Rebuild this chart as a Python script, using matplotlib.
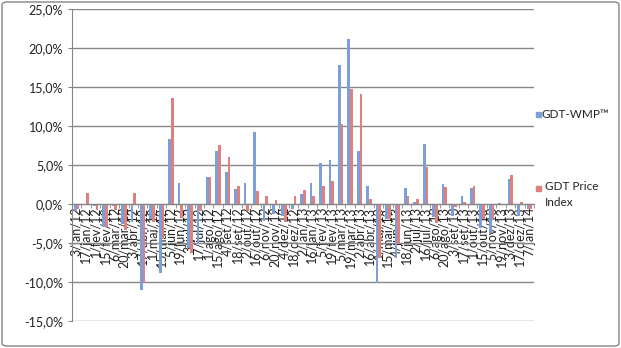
import numpy as np
import matplotlib
matplotlib.use("Agg")
import matplotlib.pyplot as plt
from matplotlib.patches import FancyBboxPatch, Rectangle
from matplotlib.ticker import FuncFormatter, MultipleLocator

plt.rcParams['font.family'] = ['Lato', 'DejaVu Sans']

dates = ['3/jan/12', '17/jan/12', '1/fev/12', '15/fev/12', '6/mar/12', '20/mar/12',
         '3/abr/12', '17/abr/12', '1/mai/12', '15/mai/12', '5/jun/12', '19/jun/12',
         '3/jul/12', '17/jul/12', '1/ago/12', '15/ago/12', '4/set/12', '18/set/12',
         '2/out/12', '16/out/12', '6/nov/12', '20/nov/12', '4/dez/12', '18/dez/12',
         '2/jan/13', '16/jan/13', '5/fev/13', '19/fev/13', '5/mar/13', '19/mar/13',
         '2/abr/13', '16/abr/13', '1/mai/13', '15/mai/13', '4/jun/13', '18/jun/13',
         '2/jul/13', '16/jul/13', '6/ago/13', '20/ago/13', '3/set/13', '17/set/13',
         '1/out/13', '15/out/13', '5/nov/13', '19/nov/13', '3/dez/13', '17/dez/13',
         '7/jan/14']

# % change per auction
wmp = [-0.9, -0.1, -0.3, -2.9, -0.3, -2.6, -2.3, -11.1, -2.0, -8.9, 8.4, 2.7,
       -5.6, -5.2, 3.4, 6.8, 4.1, 1.9, 2.7, 9.2, -2.2, -1.3, -1.5, -0.6,
       1.3, 2.7, 5.3, 5.6, 17.9, 21.2, 6.8, 2.3, -10.1, -1.9, -7.0, 2.1,
       0.2, 7.7, -1.7, 2.6, -1.5, 1.0, 2.1, -3.1, -3.7, 0.1, 3.2, -1.5,
       -0.6]
gdt = [-0.6, 1.4, -0.8, -3.0, -0.8, -3.3, 1.4, -10.1, -2.3, -4.5, 13.6, -1.8,
       -6.3, -0.9, 3.4, 7.6, 6.0, 2.3, -0.9, 1.7, 1.0, 0.5, -2.3, 1.0,
       1.8, 1.0, 2.3, 3.0, 10.3, 14.8, 14.1, 0.6, -7.0, -1.9, -5.1, 1.0,
       0.6, 4.8, -2.5, 2.2, -0.4, 0.2, 2.3, -1.9, -2.0, 0.0, 3.7, 0.2,
       -0.6]

blue = '#7C9FD8'
red = '#DE807E'
grid_col = '#868686'

fig = plt.figure(figsize=(6.21, 3.48), dpi=100)
ax = fig.add_axes([72 / 621, 1 - 320.7 / 348, (534 - 72) / 621, (320.7 - 9.3) / 348])

x = np.arange(len(dates))
w = 1 / 3.5
ax.bar(x - w / 2, wmp, w, color=blue, zorder=3)
ax.bar(x + w / 2, gdt, w, color=red, zorder=3)

ax.set_xlim(-0.5, len(dates) - 0.5)
ax.set_ylim(-15, 25)
ax.yaxis.set_major_locator(MultipleLocator(5))
ax.yaxis.set_major_formatter(FuncFormatter(lambda v, p: f"{v:.1f}%".replace('.', ',')))
ax.yaxis.grid(True, color=grid_col, linewidth=1)
ax.set_axisbelow(True)

ax.spines['top'].set_visible(False)
ax.spines['right'].set_visible(False)
ax.spines['left'].set_color(grid_col)
ax.spines['bottom'].set_color(grid_col)
ax.spines['bottom'].set_position(('data', 0))
ax.spines['bottom'].set_zorder(4)

ax.set_xticks(x)
ax.set_xticklabels(dates, rotation=90, fontsize=9, va='top', ha='center', color='#222222')
ax.set_xticks(np.arange(len(dates) + 1) - 0.5, minor=True)
ax.tick_params(axis='x', which='major', length=0, pad=2)
ax.tick_params(axis='x', which='minor', length=3, color=grid_col)
ax.tick_params(axis='y', length=3, color=grid_col, labelsize=9, labelcolor='#222222')

# legend, placed like the Excel one
fig.patches.append(Rectangle((535.7 / 621, 1 - 117 / 348), 5 / 621, 5 / 348,
                             transform=fig.transFigure, color=blue))
fig.text(542 / 621, 1 - 114.5 / 348, 'GDT-WMP™', fontsize=8.5, va='center', color='#222222')
fig.patches.append(Rectangle((535.7 / 621, 1 - 190.5 / 348), 5 / 621, 5 / 348,
                             transform=fig.transFigure, color=red))
fig.text(545 / 621, 1 - 181 / 348, 'GDT Price\nIndex', fontsize=8.5, va='top',
         color='#222222', linespacing=1.6)

# chart border
fig.patches.append(FancyBboxPatch((2 / 621, 2 / 348), 617 / 621, 344 / 348,
                                  boxstyle='round,pad=0,rounding_size=0.008',
                                  transform=fig.transFigure, fill=False,
                                  edgecolor=grid_col, linewidth=1))

fig.savefig('out.png', dpi=100)
